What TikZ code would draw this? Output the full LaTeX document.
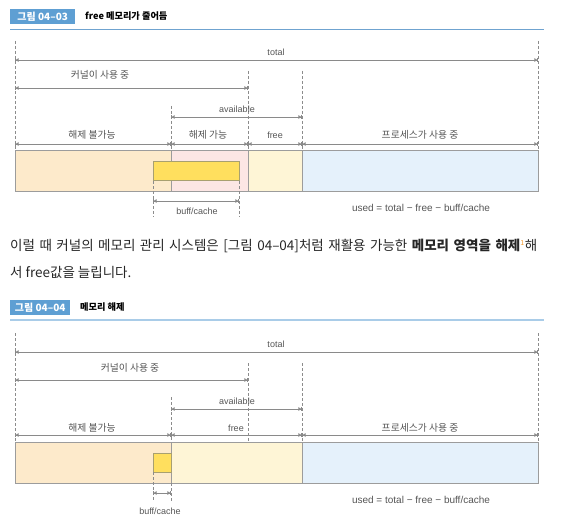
\documentclass[tikz,border=0pt]{standalone}
\usepackage{fontspec}
\setmainfont{Noto Sans CJK KR}
\newfontfamily\latsans{Liberation Sans}
\usetikzlibrary{arrows.meta}
\definecolor{hdrblue}{HTML}{5E9FD3}
\definecolor{rule1}{HTML}{6FA3D0}
\definecolor{rule2}{HTML}{A9CCE8}
\definecolor{linegray}{HTML}{8A8A8A}
\definecolor{dashgray}{HTML}{8C8C8C}
\definecolor{labelgray}{HTML}{555555}
\definecolor{borderg}{HTML}{9C9C9C}
\definecolor{segorange}{HTML}{FDEACB}
\definecolor{segpink}{HTML}{FCE6E4}
\definecolor{segyellow}{HTML}{FEF5D6}
\definecolor{segblue}{HTML}{E5F1FB}
\definecolor{buffy}{HTML}{FFDF5E}
\definecolor{buffb}{HTML}{A8A070}
\definecolor{supor}{HTML}{F29A2E}
\begin{document}
\begin{tikzpicture}[x=1pt,y=-1pt,
  dimline/.style={draw=linegray, line width=0.8pt,
    {Bar[width=4pt,line width=0.6pt]Triangle[length=3pt,width=3.5pt]}-{Triangle[length=3pt,width=3.5pt]Bar[width=4pt,line width=0.6pt]}},
  guide/.style={draw=dashgray, line width=0.7pt, dash pattern=on 3pt off 2pt},
  lbl/.style={font=\fontsize{9.8}{11}\selectfont, text=labelgray, inner sep=0pt},
  lbllat/.style={font=\latsans\fontsize{9}{11}\selectfont, text=labelgray, inner sep=0pt},
  formula/.style={font=\latsans\fontsize{10}{12}\selectfont, text=labelgray, inner sep=0pt},
  seg/.style={draw=borderg, line width=1pt},
  buffbox/.style={draw=buffb, fill=buffy, line width=1pt},
  hdrbox/.style={fill=hdrblue, text=white, font=\bfseries\fontsize{10}{11}\selectfont, inner sep=0pt, minimum height=15pt, anchor=west},
  hdrtitle/.style={font=\bfseries\fontsize{9.2}{11}\selectfont, anchor=west, inner sep=0pt},
  body/.style={font=\fontsize{13.5}{16}\selectfont, anchor=west, inner sep=0pt, text=black!85}
]
\useasboundingbox (0,0) rectangle (567,526);

% ================= Figure 04-03 =================
\node[hdrbox, minimum width=65pt] (h1) at (10,16.5) {그림 04–03};
\node[hdrtitle] (t1) at (85,16.5) {free 메모리가 줄어듬};
\draw[rule1, line width=0.9pt] (10,29) -- (544,29);

% bar segments
\path[seg, fill=segorange] (15,151) rectangle (171,192);
\path[seg, fill=segpink] (171,151) rectangle (248,192);
\path[seg, fill=segyellow] (248,151) rectangle (302,192);
\path[seg, fill=segblue] (302,151) rectangle (538,192);
\path[buffbox] (153,162) rectangle (239,181);

% guides
\coordinate (g1a) at (15,41);  \coordinate (g1b) at (15,151);
\coordinate (g2a) at (538,41); \coordinate (g2b) at (538,151);
\coordinate (g3a) at (248,71); \coordinate (g3b) at (248,151);
\coordinate (g4a) at (171,106); \coordinate (g4b) at (171,151);
\coordinate (g5a) at (302,71); \coordinate (g5b) at (302,151);
\coordinate (g6a) at (153,181); \coordinate (g6b) at (153,217);
\coordinate (g7a) at (239,181); \coordinate (g7b) at (239,217);
\foreach \g in {g1,g2,g3,g4,g5,g6,g7} \draw[guide] (\g a) -- (\g b);

% dimension arrows
\coordinate (tl1) at (15,60);  \coordinate (tr1) at (538,60);
\draw[dimline] (tl1) -- (tr1);
\node[lbllat] (ltot1) at (276,52) {total};
\coordinate (kl1) at (15,88);  \coordinate (kr1) at (248,88);
\draw[dimline] (kl1) -- (kr1);
\node[lbl] (lker1) at (100,75) {커널이 사용 중};
\coordinate (al1) at (171,117); \coordinate (ar1) at (302,117);
\draw[dimline] (al1) -- (ar1);
\node[lbllat] (lav1) at (237,109) {available};
\coordinate (r1a) at (15,144); \coordinate (r1b) at (171,144);
\coordinate (r1c) at (248,144); \coordinate (r1d) at (302,144);
\coordinate (r1e) at (538,144);
\draw[dimline] (r1a) -- (r1b);
\draw[dimline] (r1b) -- (r1c);
\draw[dimline] (r1c) -- (r1d);
\draw[dimline] (r1d) -- (r1e);
\node[lbl] (lnf1) at (92,135) {해제 불가능};
\node[lbl] (lf1) at (208,135) {해제 가능};
\node[lbllat] (lfree1) at (275,135) {free};
\node[lbl] (lproc1) at (420,135) {프로세스가 사용 중};
\coordinate (bl1) at (153,201); \coordinate (br1) at (239,201);
\draw[dimline] (bl1) -- (br1);
\node[lbllat] (lbuf1) at (197,211) {buff/cache};
\node[formula] (lused1) at (421,208) {used = total − free − buff/cache};

% ================= body text =================
\node[body] (p1) at (10,246) {\makebox[527pt][s]{이럴 때 커널의 메모리 관리 시스템은 [그림 04–04]처럼 재활용 가능한 \textbf{메모리 영역을 해제}\textsuperscript{\textcolor{supor}{\fontsize{7}{8}\selectfont 1}}해}};
\node[body] (p2) at (10,272) {서 free값을 늘립니다.};

% ================= Figure 04-04 =================
\node[hdrbox, minimum width=60pt] (h2) at (10,307.5) {그림 04–04};
\node[hdrtitle] (t2) at (80,307.5) {메모리 해제};
\draw[rule2, line width=1.6pt] (10,320) -- (544,320);

\path[seg, fill=segorange] (15,442) rectangle (171,483);
\path[seg, fill=segyellow] (171,442) rectangle (302,483);
\path[seg, fill=segblue] (302,442) rectangle (538,483);
\path[buffbox] (153,453) rectangle (171,472);

\coordinate (q1a) at (15,333);  \coordinate (q1b) at (15,442);
\coordinate (q2a) at (538,333); \coordinate (q2b) at (538,442);
\coordinate (q3a) at (248,363); \coordinate (q3b) at (248,442);
\coordinate (q4a) at (171,397); \coordinate (q4b) at (171,442);
\coordinate (q5a) at (302,363); \coordinate (q5b) at (302,442);
\coordinate (q6a) at (153,472); \coordinate (q6b) at (153,501);
\coordinate (q7a) at (171,483); \coordinate (q7b) at (171,501);
\foreach \g in {q1,q2,q3,q4,q5,q6,q7} \draw[guide] (\g a) -- (\g b);

\coordinate (tl2) at (15,352);  \coordinate (tr2) at (538,352);
\draw[dimline] (tl2) -- (tr2);
\node[lbllat] (ltot2) at (276,344) {total};
\coordinate (kl2) at (15,380);  \coordinate (kr2) at (248,380);
\draw[dimline] (kl2) -- (kr2);
\node[lbl] (lker2) at (130,368) {커널이 사용 중};
\coordinate (al2) at (171,409); \coordinate (ar2) at (302,409);
\draw[dimline] (al2) -- (ar2);
\node[lbllat] (lav2) at (237,401) {available};
\coordinate (r2a) at (15,435); \coordinate (r2b) at (171,435);
\coordinate (r2d) at (302,435); \coordinate (r2e) at (538,435);
\draw[dimline] (r2a) -- (r2b);
\draw[dimline] (r2b) -- (r2d);
\draw[dimline] (r2d) -- (r2e);
\node[lbl] (lnf2) at (92,428) {해제 불가능};
\node[lbllat] (lfree2) at (236,428) {free};
\node[lbl] (lproc2) at (420,428) {프로세스가 사용 중};
\coordinate (bl2) at (153,493); \coordinate (br2) at (171,493);
\draw[dimline] (bl2) -- (br2);
\node[lbllat] (lbuf2) at (160,511) {buff/cache};
\node[formula] (lused2) at (421,500) {used = total − free − buff/cache};
\end{tikzpicture}
\end{document}
